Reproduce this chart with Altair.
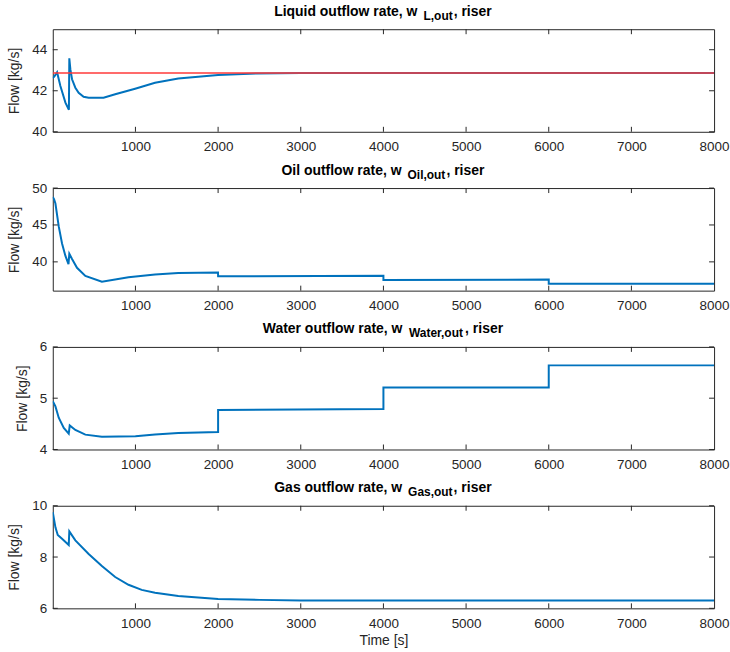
import altair as alt
import pandas as pd

# ---------------- data ----------------
liq_t = [0, 20, 52, 92, 153, 195, 200, 213, 233, 273, 313, 373, 434, 614, 755, 996, 1237, 1518, 2000, 2458, 3000, 3500, 4000, 8000]
liq_v = [42.62, 42.70, 42.90, 42.23, 41.42, 41.07, 43.58, 43.04, 42.56, 42.15, 41.90, 41.71, 41.66, 41.66, 41.83, 42.10, 42.39, 42.60, 42.77, 42.84, 42.86, 42.87, 42.87, 42.87]
ref_t = [0, 8000]
ref_v = [42.87, 42.87]

oil_t = [0, 15, 32, 72, 112, 153, 190, 200, 233, 293, 394, 594, 916, 1237, 1518, 1999, 2000, 4000, 4000, 6000, 6000, 8000]
oil_v = [48.8, 48.5, 47.9, 44.8, 42.5, 40.8, 39.7, 41.1, 40.4, 39.2, 38.1, 37.3, 37.9, 38.3, 38.5, 38.55, 38.05, 38.12, 37.55, 37.6, 37.05, 37.05]

wat_t = [0, 32, 72, 133, 193, 205, 273, 394, 594, 1000, 1237, 1518, 2000, 2000, 4000, 4000, 6000, 6000, 8000]
wat_v = [4.94, 4.84, 4.62, 4.42, 4.31, 4.47, 4.38, 4.29, 4.25, 4.26, 4.29, 4.32, 4.34, 4.77, 4.79, 5.21, 5.21, 5.64, 5.64]

gas_t = [0, 32, 60, 112, 193, 200, 273, 434, 594, 755, 916, 1076, 1237, 1518, 2000, 2500, 3000, 8000]
gas_v = [9.75, 9.16, 8.86, 8.71, 8.47, 9.0, 8.65, 8.12, 7.65, 7.22, 6.92, 6.72, 6.61, 6.48, 6.36, 6.33, 6.31, 6.31]

x_ticks = [1000, 2000, 3000, 4000, 5000, 6000, 7000, 8000]

panels = [
    dict(main="Liquid outflow rate, w", sub="L,out", tail=", riser",
         series=[(liq_t, liq_v, "#0072BD", 2.0), (ref_t, ref_v, "#FF3A3A", 1.5)],
         dom=[40, 45], yt=[40, 42, 44]),
    dict(main="Oil outflow rate, w", sub="Oil,out", tail=", riser",
         series=[(oil_t, oil_v, "#0072BD", 2.0)],
         dom=[36.1, 50], yt=[40, 45, 50]),
    dict(main="Water outflow rate, w", sub="Water,out", tail=", riser",
         series=[(wat_t, wat_v, "#0072BD", 2.0)],
         dom=[4, 6], yt=[4, 5, 6]),
    dict(main="Gas outflow rate, w", sub="Gas,out", tail=", riser",
         series=[(gas_t, gas_v, "#0072BD", 2.0)],
         dom=[6, 10], yt=[6, 8, 10]),
]

# ---------------- styling ----------------
W, H = 664, 103
FONT = "Liberation Sans"
AX = "#262626"
TSIZE = 14
SUBSIZE = 12
LSIZE = 13.5

BOLD_W = {' ': 278, ',': 278, 'L': 611, 'O': 778, 'W': 944, 'G': 778,
          'a': 556, 'b': 611, 'c': 556, 'd': 611, 'e': 556, 'f': 333, 'g': 611,
          'h': 611, 'i': 278, 'j': 278, 'k': 556, 'l': 278, 'm': 889, 'n': 611,
          'o': 611, 'p': 611, 'q': 611, 'r': 389, 's': 556, 't': 333, 'u': 611,
          'v': 556, 'w': 778, 'x': 556, 'y': 556, 'z': 500}


def tw(s, size):
    return sum(BOLD_W.get(c, 600) for c in s) * size / 1000.0


def panel(p, last):
    xs = alt.Scale(domain=[0, 8000], nice=False, zero=False)
    ys = alt.Scale(domain=p["dom"], nice=False, zero=False)
    xaxis = alt.Axis(
        values=x_ticks, labelExpr="'' + datum.value", ticks=False, tickSize=0,
        domain=False, grid=False,
        labelFont=FONT, labelFontSize=LSIZE, labelColor=AX, labelPadding=8,
        labelFlush=False, labelOverlap=False,
        title="Time [s]" if last else None, titleFont=FONT,
        titleFontSize=LSIZE + 0.5, titleFontWeight="normal", titleColor=AX,
        titlePadding=4)
    yaxis = alt.Axis(
        values=p["yt"], labelExpr="'' + datum.value", ticks=False, tickSize=0,
        domain=False, grid=False,
        labelFont=FONT, labelFontSize=LSIZE, labelColor=AX, labelPadding=6,
        labelFlush=False, labelOverlap=False,
        title="Flow [kg/s]", titleFont=FONT, titleFontSize=LSIZE + 0.5,
        titleFontWeight="normal", titleColor=AX, titlePadding=10)

    def X(f="t:Q"):
        return alt.X(f, scale=xs, axis=xaxis)

    def Y(f="v:Q"):
        return alt.Y(f, scale=ys, axis=yaxis)

    layers = []
    for k, (t, v, col, sw) in enumerate(p["series"]):
        df = pd.DataFrame({"t": t, "v": v, "i": list(range(len(t)))})
        layers.append(alt.Chart(df).mark_line(color=col, strokeWidth=sw, clip=True).encode(
            x=X(), y=Y(), order="i:Q"))

    # inward ticks (MATLAB style), positioned through the scales
    xt = pd.DataFrame({"t": x_ticks[:-1]})
    yt = pd.DataFrame({"v": p["yt"]})
    tick = dict(color=AX, strokeWidth=1)
    layers.append(alt.Chart(xt).mark_rule(**tick).encode(
        x=X(), y=alt.value(0), y2=alt.value(5)))
    layers.append(alt.Chart(xt).mark_rule(**tick).encode(
        x=X(), y=alt.value(H - 5), y2=alt.value(H)))
    layers.append(alt.Chart(yt).mark_rule(**tick).encode(
        y=Y(), x=alt.value(0), x2=alt.value(5)))
    layers.append(alt.Chart(yt).mark_rule(**tick).encode(
        y=Y(), x=alt.value(W - 5), x2=alt.value(W)))

    # title with subscript
    gap1, gap2 = 6, 1
    wm = tw(p["main"], TSIZE)
    ws = tw(p["sub"], SUBSIZE)
    wt = tw(p["tail"], TSIZE)
    total = wm + gap1 + ws + gap2 + wt
    x0 = W / 2 - 0.5 - total / 2
    one = pd.DataFrame({"a": [0]})
    base_y = -13.5
    for txt, xx, yy, sz in [(p["main"], x0, base_y, TSIZE),
                            (p["sub"], x0 + wm + gap1, base_y + 4, SUBSIZE),
                            (p["tail"], x0 + wm + gap1 + ws + gap2, base_y, TSIZE)]:
        layers.append(alt.Chart(one).mark_text(
            font=FONT, fontSize=sz, fontWeight="bold", color="black",
            align="left", baseline="alphabetic").encode(
            x=alt.value(xx), y=alt.value(yy), text=alt.value(txt)))

    return alt.layer(*layers).properties(width=W, height=H)


charts = [panel(p, i == len(panels) - 1) for i, p in enumerate(panels)]

chart = alt.vconcat(*charts, spacing=56.5, bounds="flush").properties(
    padding={"left": 7, "top": 3, "right": 0, "bottom": 0}
).configure(background="white").configure_view(stroke=AX, strokeWidth=1)

chart.save("out.html", embed_options={"renderer": "svg", "actions": False})
